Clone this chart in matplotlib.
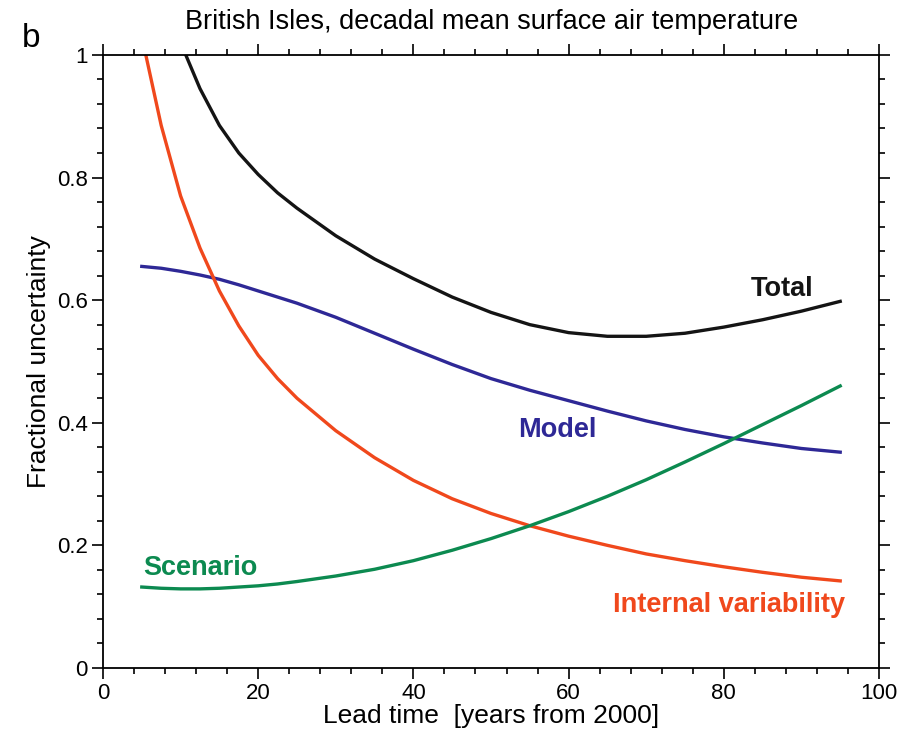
import numpy as np
import matplotlib
matplotlib.use("Agg")
import matplotlib.pyplot as plt
from matplotlib.ticker import MultipleLocator, FuncFormatter

plt.rcParams['font.family'] = ['Liberation Sans', 'DejaVu Sans']

# values (lead time in years, fractional uncertainty)
lead = [5, 7.5, 10, 12.5, 15, 17.5, 20, 22.5, 25, 30, 35, 40, 45, 50, 55, 60,
        65, 70, 75, 80, 85, 90, 95]
internal = [1.03, 0.885, 0.77, 0.685, 0.615, 0.558, 0.51, 0.472, 0.44, 0.387,
            0.343, 0.306, 0.276, 0.252, 0.232, 0.215, 0.2, 0.186, 0.175, 0.165,
            0.156, 0.148, 0.142]
model = [0.655, 0.652, 0.647, 0.641, 0.634, 0.625, 0.615, 0.605, 0.595, 0.572,
         0.546, 0.52, 0.495, 0.472, 0.453, 0.436, 0.419, 0.403, 0.389, 0.377,
         0.367, 0.358, 0.352]
scenario = [0.132, 0.13, 0.129, 0.129, 0.13, 0.132, 0.134, 0.137, 0.141, 0.15,
            0.161, 0.175, 0.192, 0.211, 0.232, 0.255, 0.28, 0.307, 0.336, 0.366,
            0.397, 0.428, 0.46]
# total runs off the top of the axes before ~10 years
lead_total = [10, 12.5, 15, 17.5, 20, 22.5, 25, 30, 35, 40, 45, 50, 55, 60,
              65, 70, 75, 80, 85, 90, 95]
total = [1.02, 0.945, 0.885, 0.84, 0.805, 0.775, 0.75, 0.705, 0.667, 0.635,
         0.605, 0.58, 0.56, 0.547, 0.541, 0.541, 0.546, 0.556, 0.568, 0.582, 0.598]

col_total = "#141414"
col_model = "#2e2896"
col_int = "#f0481c"
col_scen = "#0c8a50"

fig = plt.figure(figsize=(9.09, 7.44), dpi=100)
ax = fig.add_axes([0.1133, 0.1022, 0.8537, 0.824])

lw = 2.4
ax.plot(lead_total, total, color=col_total, lw=lw, solid_joinstyle='round')
ax.plot(lead, model, color=col_model, lw=lw, solid_joinstyle='round')
ax.plot(lead, internal, color=col_int, lw=lw, solid_joinstyle='round')
ax.plot(lead, scenario, color=col_scen, lw=lw, solid_joinstyle='round')

ax.set_xlim(0, 100)
ax.set_ylim(0, 1)
ax.xaxis.set_major_locator(MultipleLocator(20))
ax.xaxis.set_minor_locator(MultipleLocator(4))
ax.yaxis.set_major_locator(MultipleLocator(0.2))
ax.yaxis.set_minor_locator(MultipleLocator(0.04))
ax.xaxis.set_major_formatter(FuncFormatter(lambda v, p: "%g" % v))
ax.yaxis.set_major_formatter(FuncFormatter(lambda v, p: "%g" % round(v, 1)))

ax.tick_params(which='both', direction='out', top=True, right=True,
               labelsize=16, width=1.2, pad=3)
ax.tick_params(which='major', length=8)
ax.tick_params(which='minor', length=4)
for s in ax.spines.values():
    s.set_linewidth(1.3)

ax.set_xlabel("Lead time  [years from 2000]", fontsize=19, labelpad=0)
ax.set_ylabel("Fractional uncertainty", fontsize=19, labelpad=4)

fs = 19.5
ax.text(91.5, 0.618, "Total", color=col_total, fontsize=fs, fontweight='bold', ha='right', va='center')
ax.text(58.5, 0.388, "Model", color=col_model, fontsize=fs, fontweight='bold', ha='center', va='center')
ax.text(5.2, 0.163, "Scenario", color=col_scen, fontsize=fs, fontweight='bold', ha='left', va='center')
ax.text(95.6, 0.103, "Internal variability", color=col_int, fontsize=fs, fontweight='bold', ha='right', va='center')

fig.text(0.541, 0.970, "British Isles, decadal mean surface air temperature",
         fontsize=19.5, ha='center', va='center')
fig.text(0.024, 0.948, "b", fontsize=24, ha='left', va='center')

fig.savefig("out.png", dpi=100, facecolor='w')
